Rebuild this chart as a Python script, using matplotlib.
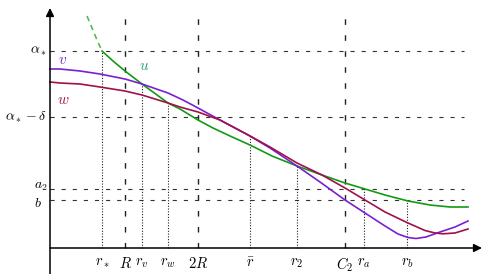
import numpy as np
import matplotlib
matplotlib.use("Agg")
import matplotlib.pyplot as plt

plt.rcParams['mathtext.fontset'] = 'cm'
plt.rcParams['font.family'] = 'serif'
plt.rcParams['font.serif'] = ['DejaVu Serif']
plt.rcParams['lines.scale_dashes'] = False

# levels on the vertical axis
level_labels = [r'$\alpha_*$', r'$\alpha_*-\delta$', r'$a_2$', r'$b$']
level_values = [197, 131, 59, 48]

# radii on the horizontal axis
tick_labels = [r'$r_*$', r'$R$', r'$r_v$', r'$r_w$', r'$2R$', r'$\bar{r}$',
               r'$r_2$', r'$C_2$', r'$r_a$', r'$r_b$']
tick_values = [52, 75, 92, 118, 148, 200, 247, 295, 314, 357]
tick_kind = ['dot', 'dash', 'dot', 'dot', 'dash', 'dot', 'dot', 'dash', 'dot', 'dot']
tick_top = [197, 232, 164, 145, 232, 112, 82, 232, 59, 48]

# curve v (purple)
v_x = [0, 10, 30, 50, 75, 92, 118, 133, 148, 170, 200, 220, 247, 270, 295,
       315, 335, 348, 358, 366, 376, 390, 405, 418]
v_y = [179, 179, 177, 174, 169, 164, 155, 148, 140, 128, 112, 100, 82, 66, 48,
       35, 22, 14, 10.5, 9.5, 11, 16, 21, 27]

# curve w (red)
w_x = [0, 10, 30, 50, 75, 92, 118, 130, 148, 170, 200, 220, 247, 272, 295,
       315, 335, 358, 375, 385, 393, 405, 418]
w_y = [166, 165, 164, 161, 157, 153, 145, 141, 136, 128, 112, 101, 85, 73, 60,
       48, 36, 25, 17.5, 15, 14.2, 15, 19]

# curve u (green), dashed part then solid part
u_dash_x = [37, 42, 47, 52]
u_dash_y = [232, 220, 208, 197]
u_x = [52, 63, 75, 92, 118, 130, 148, 163, 180, 200, 222, 247, 272, 295, 315,
       335, 358, 380, 400, 418]
u_y = [197, 187, 177, 164, 145, 139, 128, 120, 112, 103, 92, 82, 73, 65, 59,
       53, 47, 43, 41, 41]

green = '#149914'
purple = '#7a1fd2'
red = '#a0104a'

fig = plt.figure(figsize=(4.84, 2.74), dpi=100)
ax = fig.add_axes([0, 0, 1, 1])
ax.set_xlim(-50, 434)
ax.set_ylim(-26, 248)
ax.axis('off')

# horizontal levels
for lab, yv in zip(level_labels, level_values):
    ax.plot([0, 414], [yv, yv], color='#333333', lw=0.8, ls=(0, (3, 5)))
for lab, yv in zip(level_labels[:2], level_values[:2]):
    ax.text(-3, yv, lab, ha='right', va='center', fontsize=10)
ax.text(-16, level_values[2] + 3, level_labels[2], ha='left', va='center', fontsize=10)
ax.text(-16, level_values[3] - 3, level_labels[3], ha='left', va='center', fontsize=10)

# vertical markers
for lab, xv, kind, top in zip(tick_labels, tick_values, tick_kind, tick_top):
    if kind == 'dash':
        ax.plot([xv, xv], [0, top], color='#222222', lw=1.0, ls=(0, (4, 7.5)))
    else:
        ax.plot([xv, xv], [0, top], color='#222222', lw=0.8, ls=(0, (0.8, 1.2)))
    ax.text(xv, -8, lab, ha='center', va='top', fontsize=10.5)

# curves
ax.plot(u_dash_x, u_dash_y, color='#55bb55', lw=1.2, ls=(0, (4, 3)))
ax.plot(u_x, u_y, color=green, lw=1.2)
ax.plot(v_x, v_y, color=purple, lw=1.2)
ax.plot(w_x, w_y, color=red, lw=1.2)
ax.text(13, 188, r'$v$', color=purple, ha='center', va='center', fontsize=11)
ax.text(94, 182, r'$u$', color='#22a070', ha='center', va='center', fontsize=11)
ax.text(13, 148, r'$w$', color=red, ha='center', va='center', fontsize=11)

# axes with arrows
ax.annotate('', xy=(0, 240), xytext=(0, -26),
            arrowprops=dict(arrowstyle='-|>', color='black', lw=1.1,
                            mutation_scale=12, shrinkA=0, shrinkB=0))
ax.annotate('', xy=(432, 0), xytext=(0, 0),
            arrowprops=dict(arrowstyle='-|>', color='black', lw=1.1,
                            mutation_scale=12, shrinkA=0, shrinkB=0))

fig.savefig('out.png', dpi=100)
